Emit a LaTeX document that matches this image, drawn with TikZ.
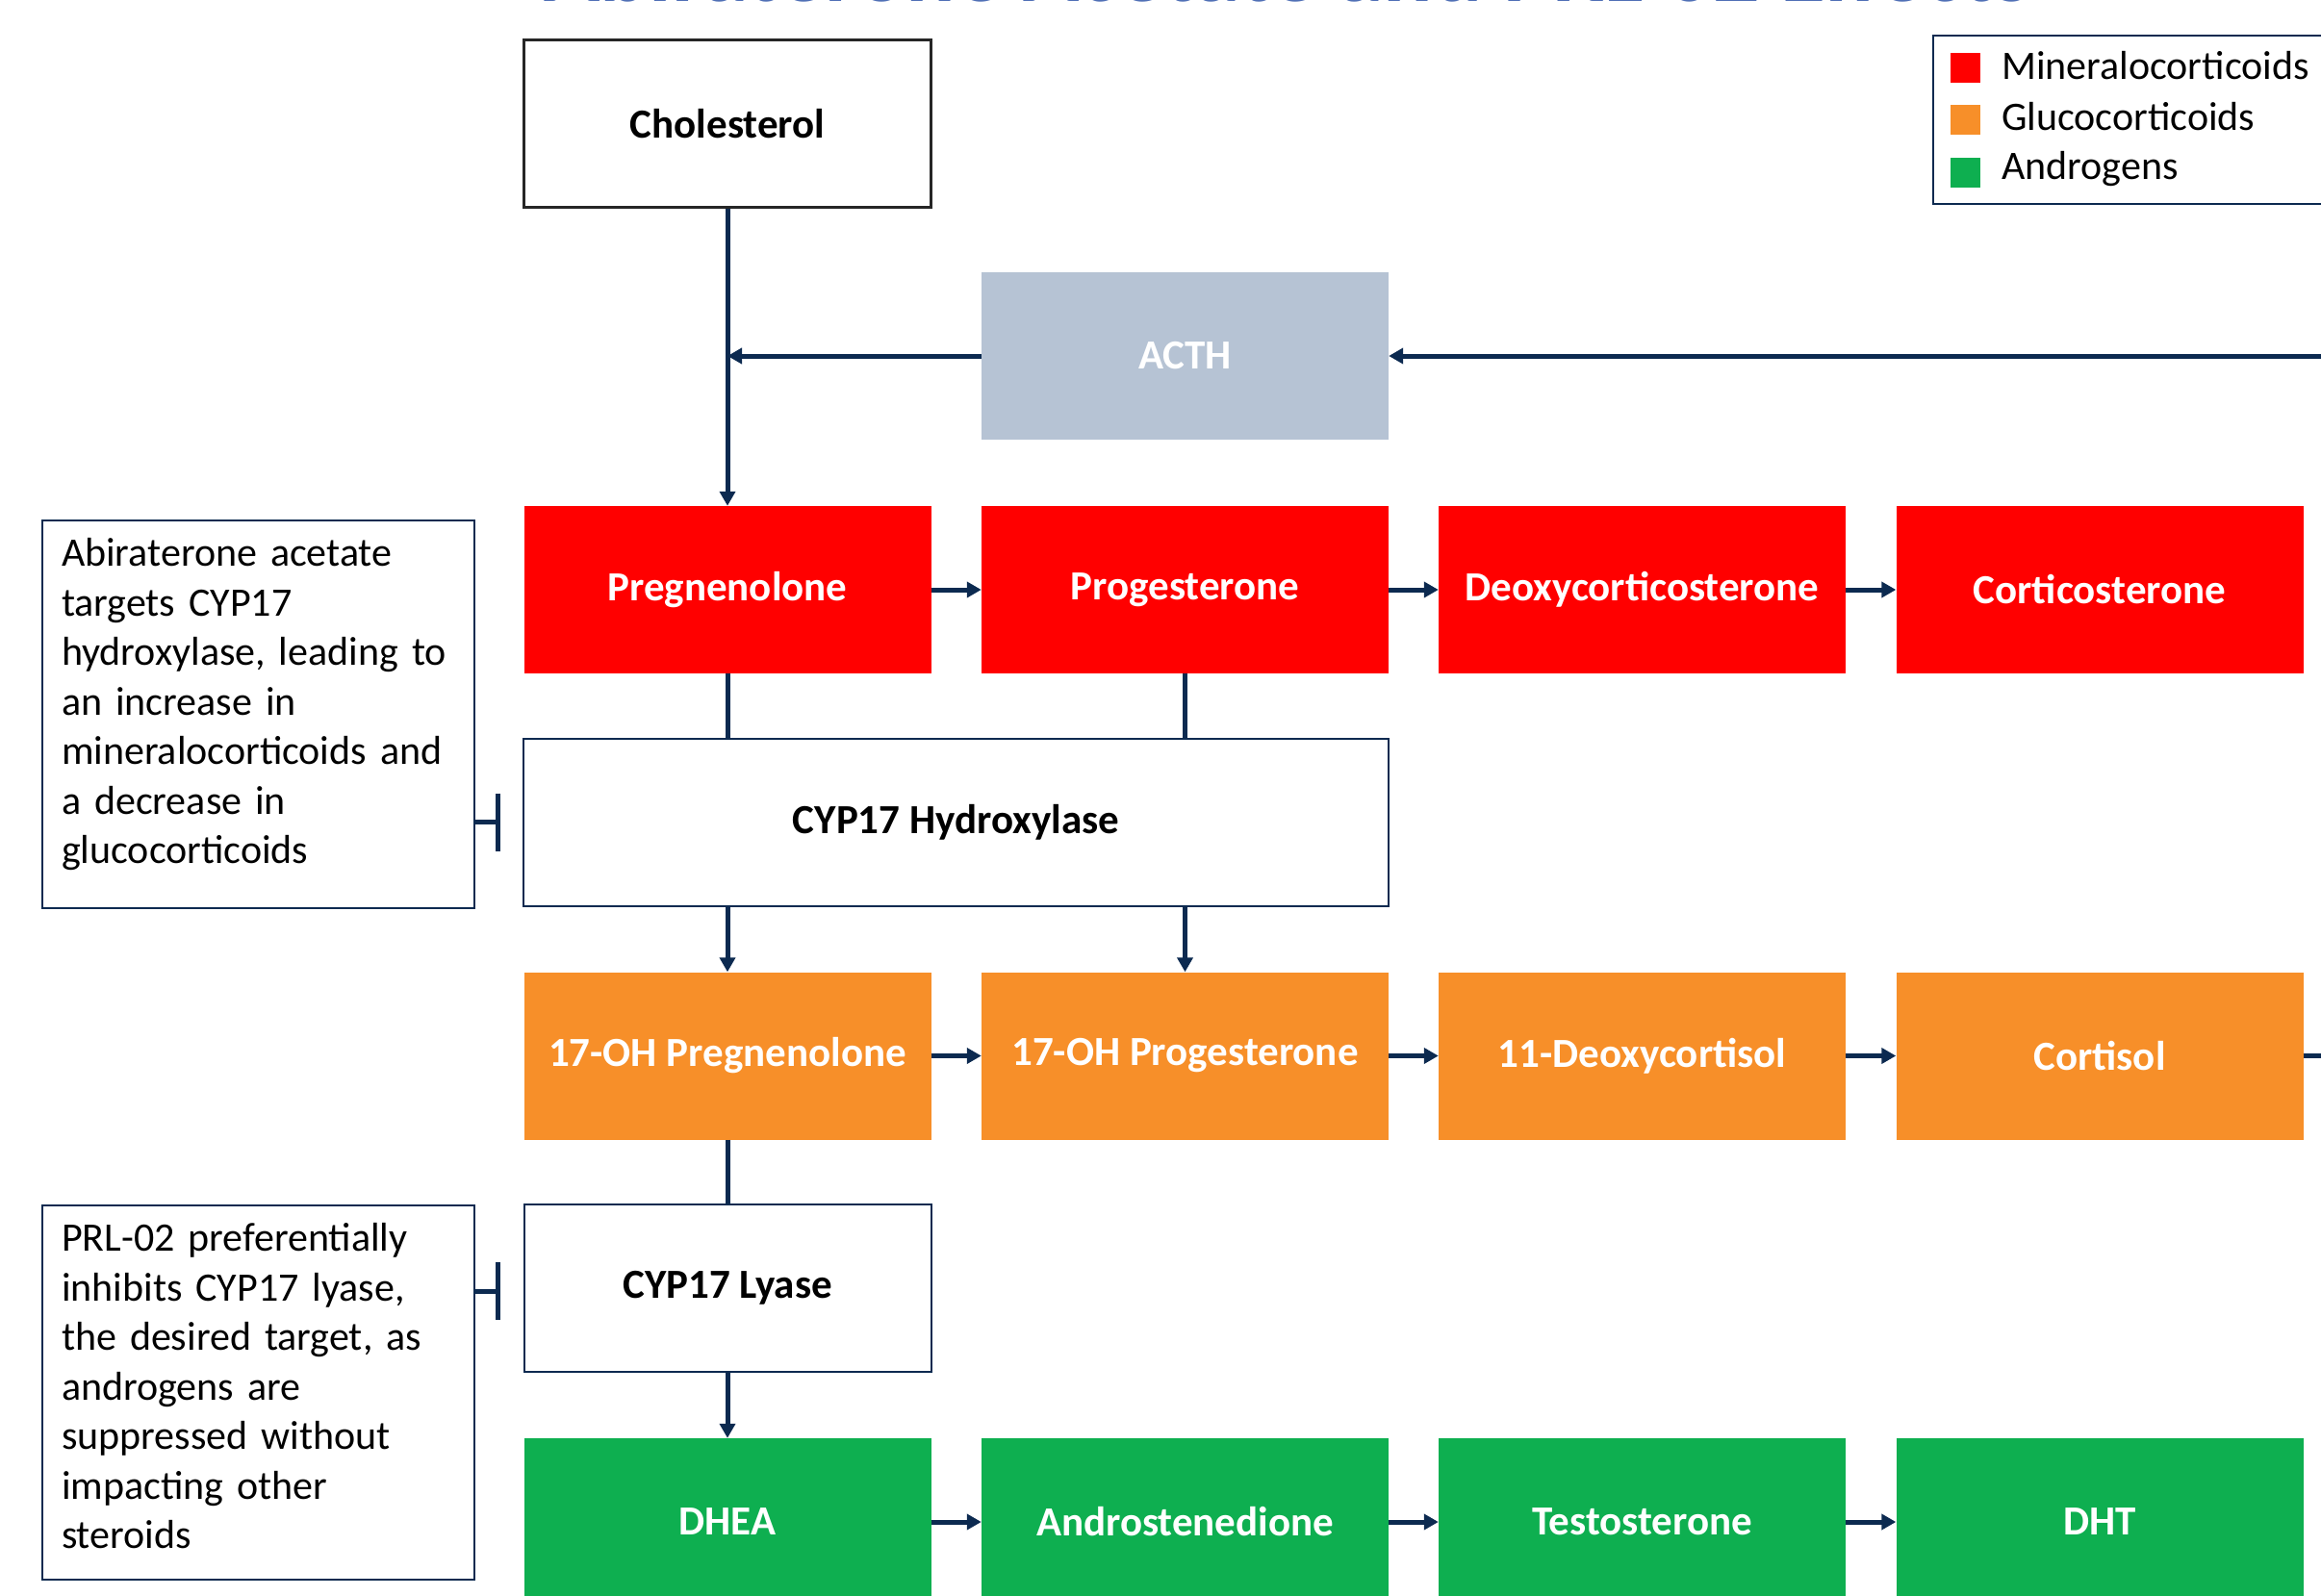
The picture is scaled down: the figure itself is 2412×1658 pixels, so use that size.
\documentclass[tikz,border=0pt]{standalone}
\usepackage{fontspec}
\setmainfont{Carlito}
\usetikzlibrary{arrows.meta}
\definecolor{navy}{RGB}{12,42,80}
\definecolor{mred}{RGB}{255,0,0}
\definecolor{gorange}{RGB}{247,143,41}
\definecolor{agreen}{RGB}{14,175,80}
\definecolor{acthc}{RGB}{182,195,212}
\definecolor{titleblue}{RGB}{80,112,182}
\begin{document}
\begin{tikzpicture}[x=1pt,y=-1pt,
  stepbox/.style={minimum width=423pt,minimum height=174pt,inner sep=0pt,
    font=\fontsize{43}{50}\selectfont\bfseries,text=white},
  mc/.style={stepbox,fill=mred},
  gc/.style={stepbox,fill=gorange},
  ac/.style={stepbox,fill=agreen},
  enz/.style={stepbox,draw=navy,line width=2pt,text=black},
  conn/.style={draw=navy,line width=5pt},
  arr/.style={conn,-{Triangle[length=15pt,width=16pt]}},
  inh/.style={conn,-{Bar[width=60pt]}},
  note/.style={draw=navy,line width=2pt,text width=409pt,align=left,
    inner xsep=20pt,inner ysep=0pt,anchor=north west,
    font=\fontsize{42}{51.5}\selectfont},
  legsq/.style={minimum size=31pt,inner sep=0pt},
  legtxt/.style={anchor=west,inner sep=0pt,font=\fontsize{42}{50}\selectfont}
]
\clip (0,0) rectangle (2412,1658);

% title (cut off at top edge, as in the reference)
\node[font=\fontsize{96}{110}\selectfont\bfseries,text=titleblue,anchor=base,inner sep=0pt]
  (title) at (1338,1) {Abiraterone Acetate and PRL-02 Effects};

% main boxes
\node[stepbox,draw=black!85,line width=2.5pt,text=black] (chol) at (756,128.5) {Cholesterol};
\node[stepbox,fill=acthc] (acth) at (1231.5,370) {ACTH};

\node[mc] (preg) at (756,613) {Pregnenolone};
\node[mc] (prog) at (1231.5,613) {Progesterone};
\node[mc] (doc)  at (1706.5,613) {Deoxycorticosterone};
\node[mc] (cort) at (2182,613) {Corticosterone};

\node[enz,minimum width=899pt] (hyd) at (993.5,854.5) {CYP17 Hydroxylase};

\node[gc] (ohpreg) at (756,1097.5) {17-OH Pregnenolone};
\node[gc] (ohprog) at (1231.5,1097.5) {17-OH Progesterone};
\node[gc] (dcort)  at (1706.5,1097.5) {11-Deoxycortisol};
\node[gc] (cortisol) at (2182,1097.5) {Cortisol};

\node[enz] (lyase) at (756,1339) {CYP17 Lyase};

\node[ac] (dhea) at (756,1582) {DHEA};
\node[ac] (andro) at (1231.5,1582) {Androstenedione};
\node[ac] (testo) at (1706.5,1582) {Testosterone};
\node[ac] (dht) at (2182,1582) {DHT};

% notes
\node[note,minimum height=403pt] (note1) at (43,540)
  {Abiraterone acetate\\ targets CYP17\\ hydroxylase, leading to\\ an increase in\\ mineralocorticoids and\\ a decrease in\\ glucocorticoids\\[-24pt]\mbox{}};
\node[note,minimum height=389pt] (note2) at (43,1252)
  {PRL-02 preferentially\\ inhibits CYP17 lyase,\\ the desired target, as\\ androgens are\\ suppressed without\\ impacting other\\ steroids\\[-38pt]\mbox{}};

% legend
\draw[navy,line width=2.5pt] (2009,37) rectangle (2440,212);
\node[legsq,fill=mred] (sq1) at (2042.5,70.5) {};
\node[legsq,fill=gorange] (sq2) at (2042.5,124.5) {};
\node[legsq,fill=agreen] (sq3) at (2042.5,179.5) {};
\node[legtxt] (lg1) at (2080,68.5) {Mineralocorticoids};
\node[legtxt] (lg2) at (2080,121.5) {Glucocorticoids};
\node[legtxt] (lg3) at (2080,175.5) {Androgens};

% coordinates
\coordinate (j1) at (756,370);
\coordinate (acthin) at (2412,370);
\coordinate (cortout) at (2412,1097.5);
\coordinate (bar1) at (520,854.5);
\coordinate (bar2) at (520,1342);

% connectors
\draw[arr] (chol) -- (preg);
\draw[arr] (acth) -- (j1);
\draw[arr] (acthin) -- (acth);

\draw[arr] (preg) -- (prog);
\draw[arr] (prog) -- (doc);
\draw[arr] (doc) -- (cort);

\draw[conn] (preg.south) -- (preg.south |- hyd.north);
\draw[conn] (prog.south) -- (prog.south |- hyd.north);
\draw[arr] (hyd.south -| ohpreg) -- (ohpreg);
\draw[arr] (hyd.south -| ohprog) -- (ohprog);

\draw[arr] (ohpreg) -- (ohprog);
\draw[arr] (ohprog) -- (dcort);
\draw[arr] (dcort) -- (cortisol);
\draw[conn] (cortisol) -- (cortout);

\draw[conn] (ohpreg.south) -- (lyase.north);
\draw[arr] (lyase) -- (dhea);

\draw[arr] (dhea) -- (andro);
\draw[arr] (andro) -- (testo);
\draw[arr] (testo) -- (dht);

\draw[inh] (note1.east |- bar1) -- (bar1);
\draw[inh] (note2.east |- bar2) -- (bar2);
\end{tikzpicture}
\end{document}
